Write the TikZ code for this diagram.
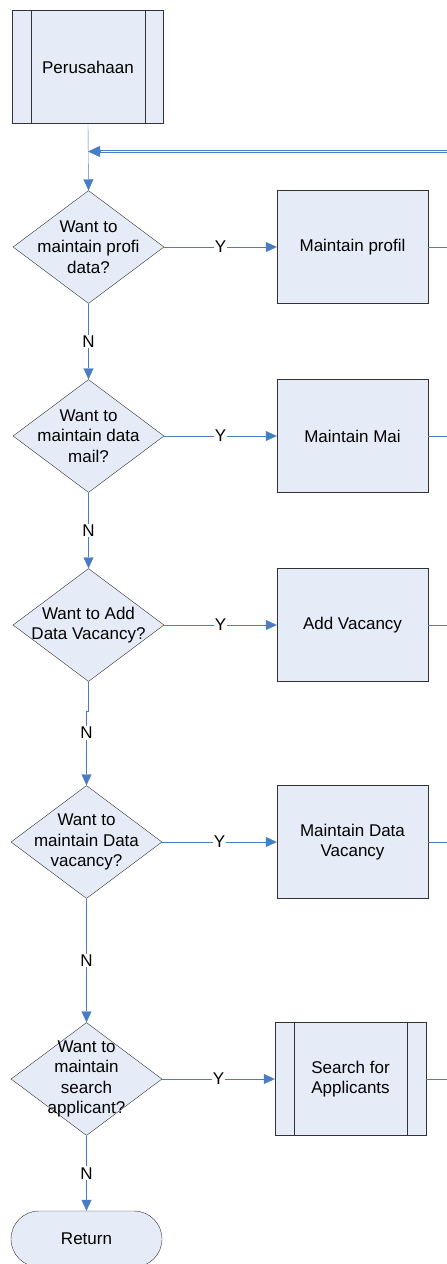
\documentclass[tikz,border=0pt]{standalone}
\usepackage{fontspec}
\setmainfont{Liberation Sans}
\usetikzlibrary{arrows.meta,shapes.geometric,shapes.misc}
\definecolor{boxfill}{RGB}{230,236,247}
\definecolor{flowblue}{RGB}{74,124,196}

\begin{document}
\begin{tikzpicture}[x=1pt,y=-1pt,
  every node/.style={font=\fontsize{17}{20.5}\selectfont},
  proc/.style={draw=black!80,fill=boxfill,minimum width=151pt,minimum height=113pt,align=center,inner sep=0pt},
  subproc/.style={proc},
  decision/.style={diamond,draw=black!80,fill=boxfill,minimum width=151pt,minimum height=113pt,inner sep=0pt,aspect=1.34},
  ends/.style={rounded rectangle,draw=black!80,fill=boxfill,minimum width=151pt,minimum height=56pt,inner sep=0pt},
  flow/.style={draw=flowblue,-{Triangle[length=11pt,width=10pt]}},
  line/.style={draw=flowblue},
  lbl/.style={fill=white,inner sep=1pt}]
\useasboundingbox (0,0) rectangle (447,1264);

% start
\node[subproc] (per) at (88,67) {Perusahaan};
\draw[black!80] ([xshift=19pt]per.north west) -- ([xshift=19pt]per.south west)
  ([xshift=-19pt]per.north east) -- ([xshift=-19pt]per.south east);

% questions
\node[decision,label={[align=center]center:Want to\\maintain profi\\data?}] (q1) at (88.5,247) {};
\node[decision,label={[align=center]center:Want to\\maintain data\\mail?}] (q2) at (88.5,436) {};
\node[decision,label={[align=center]center:Want to Add\\Data Vacancy?}] (q3) at (88.5,625) {};
\node[decision,label={[align=center]center:Want to\\maintain Data\\vacancy?}] (q4) at (86.5,842) {};
\node[decision,label={[align=center]center:Want to\\maintain\\search\\applicant?}] (q5) at (86.5,1079) {};
\node[ends] (ret) at (86.5,1239) {Return};

% actions
\node[proc] (a1) at (352.5,247) {Maintain profil};
\node[proc] (a2) at (352.5,436) {Maintain Mai};
\node[proc] (a3) at (352.5,625) {Add Vacancy};
\node[proc] (a4) at (352.5,842) {Maintain Data\\Vacancy};
\node[subproc] (a5) at (350.5,1079) {Search for\\Applicants};
\draw[black!80] ([xshift=19pt]a5.north west) -- ([xshift=19pt]a5.south west)
  ([xshift=-19pt]a5.north east) -- ([xshift=-19pt]a5.south east);

% loose ends to the right
\coordinate (back) at (447,151.5);
\coordinate (j) at (88,151.5);
\coordinate (e1) at (447,247);
\coordinate (e2) at (447,436);
\coordinate (e3) at (447,625);
\coordinate (e4) at (447,842);
\coordinate (e5) at (447,1079);

\draw[flow] (per.south) -- (q1.north);
\draw[line,double,double distance=1.6pt] (back) -- ([xshift=12pt]j);
\draw[flow,{Triangle[length=12pt,width=11pt]}-] (j) -- ([xshift=12pt]j);

\draw[flow] (q1.east) -- node[lbl]{Y} (a1.west);
\draw[flow] (q2.east) -- node[lbl]{Y} (a2.west);
\draw[flow] (q3.east) -- node[lbl]{Y} (a3.west);
\draw[flow] (q4.east) -- node[lbl]{Y} (a4.west);
\draw[flow] (q5.east) -- node[lbl]{Y} (a5.west);

\draw[flow] (q1.south) -- node[lbl]{N} (q2.north);
\draw[flow] (q2.south) -- node[lbl]{N} (q3.north);
\draw[flow] (q3.south) -- ++(0,29) -| node[lbl,pos=0.65]{N} (q4.north);
\draw[flow] (q4.south) -- node[lbl]{N} (q5.north);
\draw[flow] (q5.south) -- node[lbl]{N} (ret.north);

\draw[line] (a1.east) -- (e1);
\draw[line] (a2.east) -- (e2);
\draw[line] (a3.east) -- (e3);
\draw[line] (a4.east) -- (e4);
\draw[line] (a5.east) -- (e5);
\end{tikzpicture}
\end{document}
